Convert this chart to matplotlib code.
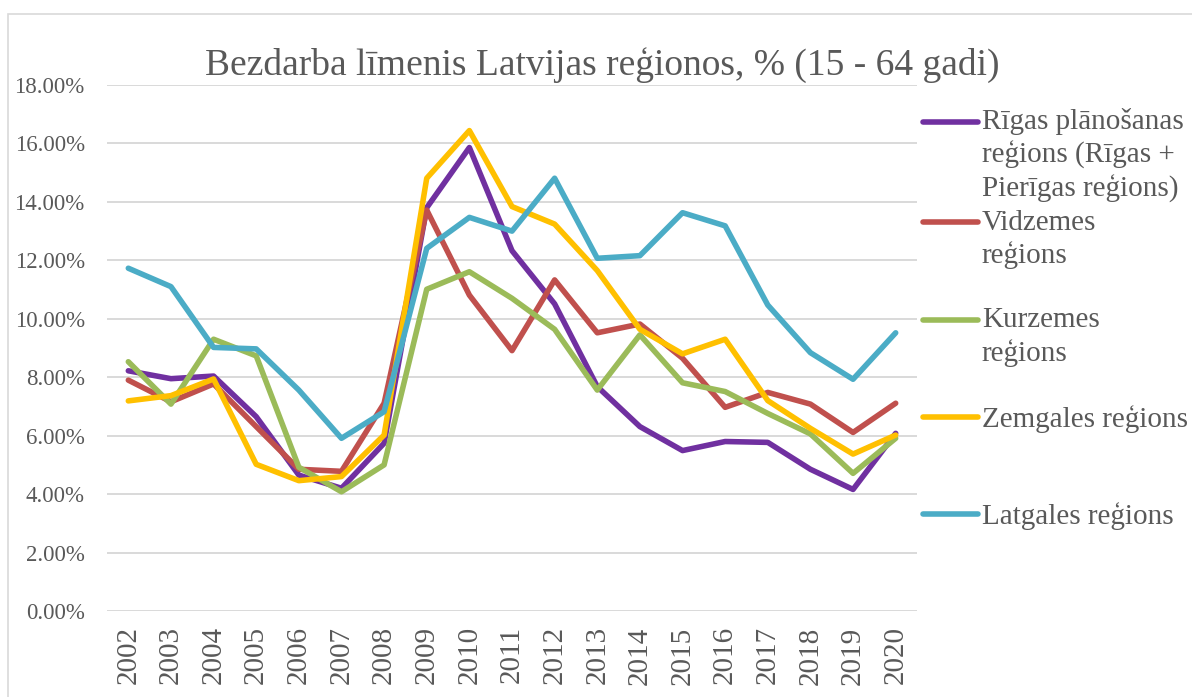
import numpy as np
import matplotlib
matplotlib.use("Agg")
import matplotlib.pyplot as plt
from matplotlib.legend_handler import HandlerLine2D
from matplotlib.patches import Rectangle

# data (unemployment %, 15-64)
years = [str(y) for y in range(2002, 2021)]
riga = [8.22, 7.95, 8.04, 6.65, 4.65, 4.20, 5.74, 13.80, 15.86, 12.33, 10.51,
        7.68, 6.31, 5.49, 5.80, 5.77, 4.85, 4.16, 6.08]
vidzeme = [7.90, 7.16, 7.77, 6.31, 4.85, 4.78, 7.11, 13.72, 10.81, 8.91, 11.33,
           9.52, 9.82, 8.65, 6.97, 7.48, 7.08, 6.11, 7.11]
kurzeme = [8.53, 7.08, 9.30, 8.73, 4.92, 4.08, 5.00, 11.01, 11.61, 10.70, 9.64,
           7.56, 9.45, 7.81, 7.51, 6.76, 6.06, 4.71, 5.91]
zemgale = [7.19, 7.37, 7.94, 5.02, 4.46, 4.60, 6.02, 14.81, 16.44, 13.84, 13.24,
           11.65, 9.64, 8.80, 9.30, 7.20, 6.25, 5.37, 6.02]
latgale = [11.73, 11.10, 9.02, 8.97, 7.56, 5.91, 6.82, 12.41, 13.47, 13.00, 14.81,
           12.07, 12.16, 13.63, 13.18, 10.47, 8.84, 7.93, 9.52]

labels = [
    "Rīgas plānošanas\nreģions (Rīgas +\nPierīgas reģions)",
    "Vidzemes\nreģions\n",
    "Kurzemes\nreģions\n",
    "Zemgales reģions\n\n",
    "Latgales reģions\n\n",
]
colors = ["#7030A0", "#C0504D", "#9BBB59", "#FFC000", "#4BACC6"]
series = [riga, vidzeme, kurzeme, zemgale, latgale]

title = "Bezdarba līmenis Latvijas reģionos, % (15 - 64 gadi)"
text_color = "#595959"
grid_color = "#D9D9D9"

plt.rcParams['font.family'] = ['Liberation Serif', 'DejaVu Serif']

LINE_PITCH = 1.13  # legend line pitch in units of font size


class FirstLineHandler(HandlerLine2D):
    """Put the legend line next to the first text line instead of the middle."""
    def create_artists(self, legend, orig_handle, xdescent, ydescent, width,
                       height, fontsize, trans):
        artists = super().create_artists(legend, orig_handle, xdescent, ydescent,
                                         width, height, fontsize, trans)
        for a in artists:
            a.set_ydata(np.asarray(a.get_ydata()) + LINE_PITCH * fontsize)
        return artists


W, H = 1192, 697
fig = plt.figure(figsize=(W / 100, H / 100), dpi=100)
ax = fig.add_axes([107 / W, (H - 611) / H, (917 - 107) / W, (611 - 85) / H])

x = np.arange(len(years))
lines = []
for vals, col, lab in zip(series, colors, labels):
    ln, = ax.plot(x, vals, color=col, lw=4, label=lab,
                  solid_capstyle='round', solid_joinstyle='round')
    lines.append(ln)

ax.set_xlim(-0.5, len(years) - 0.5)
ax.set_ylim(0, 18)
ax.set_yticks(np.arange(0, 19, 2))
ax.set_yticklabels([f"{v:.2f}%" for v in np.arange(0, 19, 2)])
ax.set_xticks(x)
ax.set_xticklabels(years, rotation=90)
ax.tick_params(axis='y', length=0, pad=16, labelsize=16.5, labelcolor=text_color)
ax.tick_params(axis='x', length=0, pad=11, labelsize=21, labelcolor=text_color)
ax.grid(axis='y', color=grid_color, lw=1.4)
ax.set_axisbelow(True)
for s in ax.spines.values():
    s.set_visible(False)

fig.text(602 / W, (H - 75) / H, title, ha='center', va='baseline',
         fontsize=27, color=text_color)

leg = fig.legend(handles=lines, loc='upper left',
                 bbox_to_anchor=(923 / W, (H - 108) / H), frameon=False,
                 fontsize=21, labelcolor=text_color, borderpad=0, borderaxespad=0,
                 labelspacing=0.24, handlelength=1.9, handletextpad=0.12,
                 handler_map={ln: FirstLineHandler() for ln in lines})
for t in leg.get_texts():
    t.set_linespacing(1.26)

# chart area border (cut by the image edge on the right and bottom)
fig.add_artist(Rectangle((8 / W, -0.1), 1.2, (H - 14) / H + 0.1,
                         transform=fig.transFigure, fill=False,
                         edgecolor=grid_color, lw=1.2, clip_on=False))

fig.savefig("out.png", dpi=100)
